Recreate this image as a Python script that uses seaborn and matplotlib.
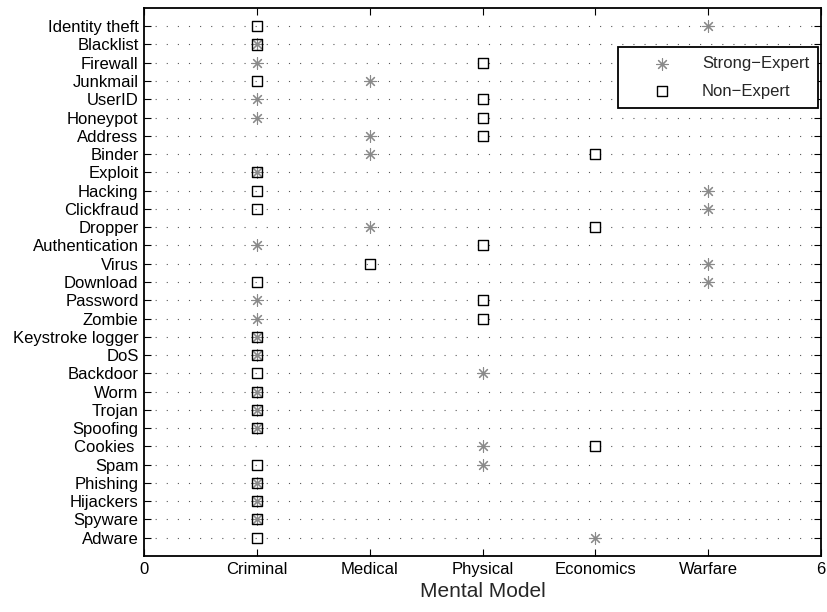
import pandas as pd
import matplotlib
matplotlib.use("Agg")
import matplotlib.pyplot as plt
import seaborn as sns

# categories listed top to bottom as in the chart
terms = ["Identity theft", "Blacklist", "Firewall", "Junkmail", "UserID", "Honeypot",
         "Address", "Binder", "Exploit", "Hacking", "Clickfraud", "Dropper",
         "Authentication", "Virus", "Download", "Password", "Zombie",
         "Keystroke logger", "DoS", "Backdoor", "Worm", "Trojan", "Spoofing",
         "Cookies ", "Spam", "Phishing", "Hijackers", "Spyware", "Adware"]

strong_expert = ["Warfare", "Criminal", "Criminal", "Medical", "Criminal", "Criminal",
                 "Medical", "Medical", "Criminal", "Warfare", "Warfare", "Medical",
                 "Criminal", "Warfare", "Warfare", "Criminal", "Criminal",
                 "Criminal", "Criminal", "Physical", "Criminal", "Criminal", "Criminal",
                 "Physical", "Physical", "Criminal", "Criminal", "Criminal", "Economics"]

non_expert = ["Criminal", "Criminal", "Physical", "Criminal", "Physical", "Physical",
              "Physical", "Economics", "Criminal", "Criminal", "Criminal", "Economics",
              "Physical", "Medical", "Criminal", "Physical", "Physical",
              "Criminal", "Criminal", "Criminal", "Criminal", "Criminal", "Criminal",
              "Economics", "Criminal", "Criminal", "Criminal", "Criminal", "Criminal"]

models = ["Criminal", "Medical", "Physical", "Economics", "Warfare"]

n = len(terms)
model_pos = {m: i + 1 for i, m in enumerate(models)}
ypos = [n - i for i in range(n)]

df_strong = pd.DataFrame({"term": terms, "y": ypos,
                          "x": [model_pos[m] for m in strong_expert]})
df_non = pd.DataFrame({"term": terms, "y": ypos,
                       "x": [model_pos[m] for m in non_expert]})

sns.set_style("white")
plt.rcParams["font.family"] = ["Liberation Sans", "DejaVu Sans"]

fig = plt.figure(figsize=(8.28, 6.12), dpi=100)
ax = fig.add_axes([0.174, 0.0915, 0.8175, 0.8955])

sns.scatterplot(data=df_strong, x="x", y="y", marker=(8, 2, 0), s=70,
                color="#8a8a8a", linewidth=0.8,
                label="Strong\u2212Expert", ax=ax, zorder=3)
sns.scatterplot(data=df_non, x="x", y="y", marker="s", s=52,
                facecolor="none", edgecolor="black", linewidth=1.0,
                label="Non\u2212Expert", ax=ax, zorder=4)

ax.set_xlim(0, 6)
ax.set_ylim(0, n + 1)
ax.set_xticks(range(0, 7))
ax.set_xticklabels(["0"] + models + ["6"], fontsize=12)
ax.set_yticks(ypos)
ax.set_yticklabels(terms, fontsize=12)
ax.set_xlabel("Mental Model", fontsize=15, labelpad=4)
ax.set_ylabel("")

ax.yaxis.grid(True, linestyle=(0, (1, 9)), color="0.35", linewidth=0.8)
ax.xaxis.grid(False)
ax.set_axisbelow(True)

for sp in ax.spines.values():
    sp.set_visible(True)
    sp.set_color("black")
    sp.set_linewidth(1.3)
ax.tick_params(direction="in", length=5, width=0.8, top=True, right=True,
               bottom=True, left=True, colors="black", pad=4)

leg = ax.legend(loc="upper right", bbox_to_anchor=(0.996, 0.929), borderaxespad=0,
                fontsize=12, frameon=True, fancybox=False, handletextpad=0.3,
                borderpad=0.55, labelspacing=0.75, handlelength=4.2)
leg.get_frame().set_edgecolor("black")
leg.get_frame().set_linewidth(1.3)
leg.get_frame().set_alpha(1)

fig.savefig("out.png", dpi=100)
